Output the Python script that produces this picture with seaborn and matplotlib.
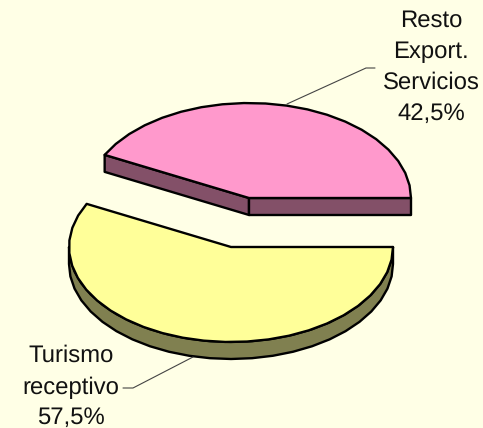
import numpy as np
import matplotlib
matplotlib.use("Agg")
import matplotlib.pyplot as plt
from matplotlib.patches import Polygon
import seaborn as sns

categories = ["Resto\nExport.\nServicios", "Turismo\nreceptivo"]
shares = [42.5, 57.5]
pct_labels = ["42,5%", "57,5%"]
top_colors = ["#FF99CC", "#FFFF99"]
side_colors = ["#835068", "#808050"]

sns.set_theme(style="white")
plt.rcParams["font.family"] = ["Liberation Sans", "DejaVu Sans"]
plt.rcParams["text.hinting"] = "none"

W, H = 483, 428
BG = "#FFFFE6"
fig = plt.figure(figsize=(W / 100, H / 100), dpi=100, facecolor=BG)
ax = fig.add_axes([0, 0, 1, 1])
ax.set_xlim(0, W)
ax.set_ylim(H, 0)
ax.axis("off")

RX, RY, DEPTH = 162, 95, 17
centers = [(249, 198), (231, 247)]
LW = 1.7


def arc(center, a0, a1, step=7.5):
    n = max(2, int(abs(a1 - a0) / step) + 1)
    t = np.radians(np.linspace(a0, a1, n))
    return np.column_stack([center[0] + RX * np.cos(t), center[1] - RY * np.sin(t)])


def poly(pts, fc):
    ax.add_patch(Polygon(pts, closed=True, facecolor=fc, edgecolor="black",
                         linewidth=LW, joinstyle="round"))


angle_span = [s / sum(shares) * 360 for s in shares]
down = np.array([0, DEPTH])

# Upper slice: starts at 0 degrees and runs counter-clockwise
c = np.array(centers[0], float)
a1 = angle_span[0]
edge = arc(c, a1, a1)[0]
right = arc(c, 0, 0)[0]
poly(np.array([edge, c, c + down, edge + down]), side_colors[0])
poly(np.array([c, right, right + down, c + down]), side_colors[0])
poly(np.vstack([[c], arc(c, 0, a1)]), top_colors[0])

# Lower slice: takes the remaining angle, with its rim visible below
c = np.array(centers[1], float)
outer = arc(c, 180, 360)
poly(np.vstack([outer, (outer + down)[::-1]]), side_colors[1])
poly(np.vstack([[c], arc(c, a1, a1 + angle_span[1])]), top_colors[1])

# Leader lines
ax.plot([287, 366, 375], [104, 68, 68], color="#444444", lw=0.8)
ax.plot([193, 133, 123], [357, 388, 388], color="#444444", lw=0.8)

FS = 17.2
label_pos = [(431, [21, 52, 83, 114]), (71, [356, 388, 418])]
for name, pct, (x, ys) in zip(categories, pct_labels, label_pos):
    for line, y in zip(name.split("\n") + [pct], ys):
        ax.text(x, y, line, ha="center", va="center", fontsize=FS, color="#111111")

fig.savefig("out.png", dpi=100, facecolor=BG)
